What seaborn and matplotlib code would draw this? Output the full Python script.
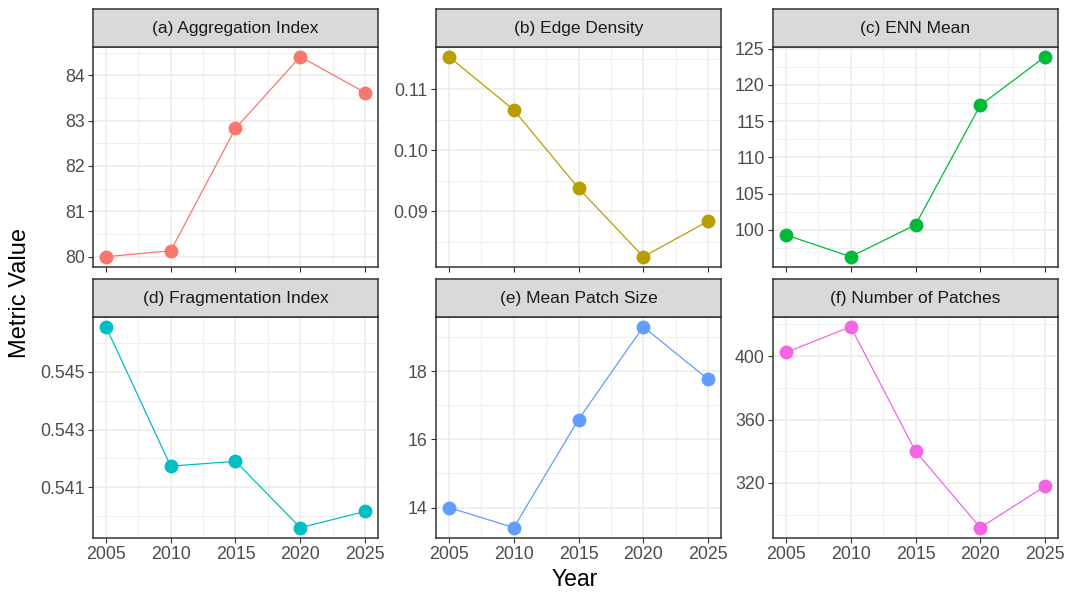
import numpy as np
import pandas as pd
import matplotlib
matplotlib.use("Agg")
import matplotlib.pyplot as plt
from matplotlib.ticker import FixedLocator, AutoMinorLocator, FixedFormatter
import seaborn as sns

years = [2005, 2010, 2015, 2020, 2025]
titles = ["(a) Aggregation Index", "(b) Edge Density", "(c) ENN Mean",
          "(d) Fragmentation Index", "(e) Mean Patch Size", "(f) Number of Patches"]
aggregation = [80.00, 80.13, 82.83, 84.41, 83.62]
edge_density = [0.1153, 0.1066, 0.0938, 0.0826, 0.0884]
enn_mean = [99.3, 96.3, 100.7, 117.2, 123.9]
fragmentation = [0.54656, 0.54173, 0.54190, 0.53960, 0.54016]
mean_patch = [14.0, 13.41, 16.58, 19.30, 17.76]
n_patches = [402.3, 418.5, 340.0, 291.8, 317.9]
series = [aggregation, edge_density, enn_mean, fragmentation, mean_patch, n_patches]

ytick_values = [[80, 81, 82, 83, 84], [0.09, 0.10, 0.11], [100, 105, 110, 115, 120, 125],
                [0.541, 0.543, 0.545], [14, 16, 18], [320, 360, 400]]
ytick_labels = [["80", "81", "82", "83", "84"], ["0.09", "0.10", "0.11"],
                ["100", "105", "110", "115", "120", "125"],
                ["0.541", "0.543", "0.545"], ["14", "16", "18"], ["320", "360", "400"]]
xtick_labels = ["2005", "2010", "2015", "2020", "2025"]
colors = ["#F8766D", "#B79F00", "#00BA38", "#00BFC4", "#619CFF", "#F564E3"]

sns.set_theme(style="white")
plt.rcParams["font.family"] = ["Liberation Sans", "DejaVu Sans"]

W, H = 1065, 597
fig = plt.figure(figsize=(W / 100, H / 100), dpi=100)

col_left = [93, 436, 773]
pw = 285
rows = [(9.3, 46.7, 266.7), (279.3, 316.7, 537.7)]

for i, (title, vals) in enumerate(zip(titles, series)):
    r, c = divmod(i, 3)
    st, sb, pb = rows[r]
    left = col_left[c]
    ax = fig.add_axes([left / W, 1 - pb / H, pw / W, (pb - sb) / H])
    sax = fig.add_axes([left / W, 1 - sb / H, pw / W, (sb - st) / H])

    df = pd.DataFrame({"Year": years, "Value": vals})
    sns.lineplot(data=df, x="Year", y="Value", ax=ax, color=colors[i], linewidth=0.9,
                 marker="o", markersize=10, markeredgewidth=0, zorder=3)

    lo, hi = min(vals), max(vals)
    pad = (hi - lo) * 0.05
    ax.set_ylim(lo - pad, hi + pad)
    ax.set_xlim(2004, 2026)

    ax.xaxis.set_major_locator(FixedLocator(years))
    ax.yaxis.set_major_locator(FixedLocator(ytick_values[i]))
    ax.yaxis.set_major_formatter(FixedFormatter(ytick_labels[i]))
    ax.xaxis.set_minor_locator(AutoMinorLocator(2))
    ax.yaxis.set_minor_locator(AutoMinorLocator(2))
    ax.grid(which="major", color="#EBEBEB", linewidth=1.1, zorder=0)
    ax.grid(which="minor", color="#EFEFEF", linewidth=0.8, zorder=0)
    ax.set_axisbelow(True)
    ax.set_facecolor("white")

    if r == 1:
        ax.set_xticklabels(xtick_labels)
    else:
        ax.set_xticklabels([])
    ax.tick_params(which="major", direction="out", length=3.5, width=0.8, color="#333333",
                   labelsize=12.8, labelcolor="#4D4D4D", pad=2.5,
                   bottom=True, left=True)
    ax.tick_params(which="minor", length=0)
    ax.set_xlabel("")
    ax.set_ylabel("")
    for sp in ax.spines.values():
        sp.set_color("#333333")
        sp.set_linewidth(1.1)

    sax.set_facecolor("#D9D9D9")
    sax.set_xticks([])
    sax.set_yticks([])
    for sp in sax.spines.values():
        sp.set_color("#333333")
        sp.set_linewidth(1.1)
    sax.text(0.5, 0.5, title, ha="center", va="center", fontsize=12.5,
             color="#1A1A1A", transform=sax.transAxes)

fig.text(20 / W, 1 - 293 / H, "Metric Value", rotation=90, ha="center", va="center",
         fontsize=17, color="black")
fig.text(575 / W, 1 - 580 / H, "Year", ha="center", va="center", fontsize=16.5, color="black")

fig.savefig("out.png", dpi=100, facecolor="white")
